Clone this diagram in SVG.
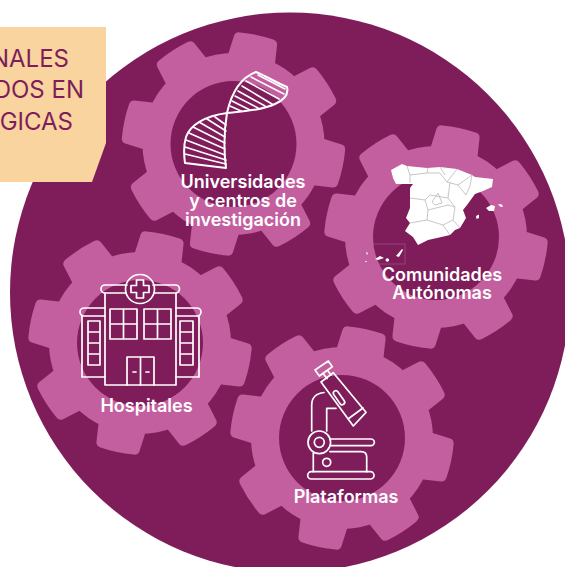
<svg xmlns="http://www.w3.org/2000/svg" xmlns:xlink="http://www.w3.org/1999/xlink" width="565" height="567" viewBox="0 0 565 567">
<style>
.label{font-family:"Inter","Liberation Sans",sans-serif;font-weight:600;font-size:18px;fill:#fff;text-anchor:middle}
.title{font-family:"Inter","Liberation Sans",sans-serif;font-weight:400;font-size:24px;fill:#7f1d5b;text-anchor:end}
.ic{fill:none;stroke:#fff;stroke-width:1.7;stroke-linecap:round;stroke-linejoin:round}
.rung{fill:none;stroke:#fff;stroke-width:1.6;stroke-linecap:round}
.reg{fill:none;stroke:#c4bec2;stroke-width:.9;stroke-linejoin:round}
.hole{fill:#7f1d5b}
.gearfill{fill:#c45f9f}
</style>
<defs>
<path id="tooth" d="M-24,-86 L-22,-106 Q-21.500,-110 -17,-110.500 Q0,-112.500 17,-110.500 Q21.500,-110 22,-106 L24,-86 Z"/>
<g id="gear" class="gearfill">
<circle r="91"/>
<use xlink:href="#tooth" href="#tooth" transform="rotate(12)"/>
<use xlink:href="#tooth" href="#tooth" transform="rotate(57)"/>
<use xlink:href="#tooth" href="#tooth" transform="rotate(102)"/>
<use xlink:href="#tooth" href="#tooth" transform="rotate(147)"/>
<use xlink:href="#tooth" href="#tooth" transform="rotate(192)"/>
<use xlink:href="#tooth" href="#tooth" transform="rotate(237)"/>
<use xlink:href="#tooth" href="#tooth" transform="rotate(282)"/>
<use xlink:href="#tooth" href="#tooth" transform="rotate(327)"/>
<circle class="hole" r="63"/>
</g>
</defs>
<rect width="565" height="567" fill="#fff"/>
<circle cx="290" cy="292.500" r="280" fill="#7f1d5b"/>
<g id="connectors"/>
<g id="box">
<path d="M0,27 H106 V143 L92,182 H0 Z" fill="#f9d49e"/>
<text class="title" x="69" y="67">NALES</text>
<text class="title" x="84" y="98">DOS EN</text>
<text class="title" x="73" y="130">GICAS</text>
</g>
<g id="universidades">
<use xlink:href="#gear" href="#gear" x="233.500" y="144"/>
<g class="ic" style="stroke-width:2">
<path d="M227,113 C231,95 240,78 256,72 C266,76 277,83 287,87 C289,95 284,100 275,104 C262,110 245,111 227,113 C205,116 190,125 186,137 C183,147 184,156 185,163 L226,168 C223,145 225,125 227,113 Z"/>
</g>
<g class="rung">
<path d="M258,75 L285,89 M251,77 L284,94 M246,81 L279,99 M242,86 L272,104 M238,91 L265,106 M235,96 L258,108 M232,101 L250,110 M230,106 L241,111"/>
<path d="M215,117 L226,125 M207,119 L226,131 M199,122 L225,137 M193,127 L225,143 M189,133 L225,149 M186,140 L225,155 M185,147 L226,160 M185,154 L226,164"/>
</g>
<text class="label" x="243" y="188">Universidades</text>
<text class="label" x="243" y="207">y centros de</text>
<text class="label" x="243" y="226">investigación</text>
</g>
<g id="comunidades">
<use xlink:href="#gear" href="#gear" x="436" y="237"/>
<path fill="#fff" d="M391,170 L402,164 L407,166 L427,168 L440,167 L457,169 L472,175 L475,177 L493,179 L492,187 L483,191 L475,194 L467,205 L463,210 L466,218 L460,228 L455,230 L450,235 L437,238 L428,240 L418,245 L413,237 L405,231 L410,223 L406,218 L410,208 L410,188 L413,184 L396,184 L393,178 Z"/>
<path class="reg" d="M407,166 L410,175 L410,183 M410,175 L427,173 L428,168 M427,173 L440,173 L447,182 L457,169 M440,167 L445,175 M447,182 L458,185 L472,175 M458,185 L466,195 L470,186 L472,175 M450,182 L448,198 L455,207 L453,220 L460,228 M448,198 L430,195 L425,200 L410,198 M425,200 L428,210 L427,220 L410,223 M428,210 L448,205 L455,207 M427,220 L443,225 L450,235 M443,225 L453,220 M432,202 L438,193 L442,203 L435,205 Z"/>
<path fill="#fff" d="M486,208 L491,205 L495,206 L494,211 L489,211 Z M498,204 L502,204.500 L503,207 L500,206.500 Z M476,216 L479,214.500 L479,218 L476.500,219 Z"/>
<rect x="364" y="244" width="41" height="20" fill="none" stroke="#a86a95" stroke-width=".5"/>
<path fill="#fff" d="M396,256 L402,249 L403,250 L399,257 Z M384,258 L380,256 L375,259 L378,260 Z M385.500,260 a1.800,1.800 0 1 0 3.600,0 a1.800,1.800 0 1 0 -3.600,0 Z M366,252 L368,253 L367,255 Z M365,261 L367,261 L366,262.500 Z"/>
<text class="label" x="442" y="281">Comunidades</text>
<text class="label" x="442" y="299">Autónomas</text>
</g>
<g id="hospitales">
<use xlink:href="#gear" href="#gear" x="140" y="343"/>
<g class="ic">
<path d="M127,285 H105 a4,4 0 0 0 0,8 H126 M154,293 H175.500 a4,4 0 0 0 0,-8 H153"/>
<path d="M105,293 V385 H176 V293"/>
<circle cx="140" cy="289" r="14.500"/>
<path d="M136.500,280 H143.500 V285.500 H149 V292.500 H143.500 V298 H136.500 V292.500 H131 V285.500 H136.500 Z"/>
<path d="M110,309 H137 V339 H110 Z M123.500,309 V339 M110,324 H137 M144,309 H171 V339 H144 Z M157.500,309 V339 M144,324 H171"/>
<path d="M127,385 V357 H154 V385 M140.500,357 V385 M133,372 H136 M146,372 H149"/>
<path d="M105,308 H84 a4,4 0 0 0 0,8 H105 M82,316 V377 H105 M88,321 H100 V365 H88 Z M88,332 H100 M88,343 H100 M88,354 H100"/>
<path d="M176,308 H197 a4,4 0 0 1 0,8 H176 M199,316 V377 H176 M180,321 H193 V365 H180 Z M180,332 H193 M180,343 H193 M180,354 H193"/>
</g>
<text class="label" x="146.500" y="412">Hospitales</text>
</g>
<g id="plataformas">
<use xlink:href="#gear" href="#gear" x="342" y="438"/>
<g class="ic">
<path d="M321,382 L333.300,372.700 L366,412.300 L353.300,426 Z M348,419 L363,408"/>
<path d="M315,370 L328.300,361 L332.300,366.700 L319.300,376 Z M323.500,374 L327,378.500 M328,371 L331,375"/>
<rect x="331" y="395.200" width="16" height="5" rx="2.500" transform="rotate(55 339 397.700)"/>
<path d="M311.700,431 V405 Q311.700,394 324,392.500 M326.700,431 V408.300 H336"/>
<circle cx="319.300" cy="442.300" r="11.300"/>
<circle cx="319.300" cy="442.300" r="5"/>
<path d="M330,439 H371 a3.300,3.300 0 0 1 0,6.700 H330"/>
<rect x="307.700" y="471.700" width="66.300" height="7.300" rx="3.600"/>
<path d="M313.300,453 V471.700 M366.700,471.700 V457 Q366.700,451.700 361,451.700 H330"/>
<circle cx="326.700" cy="462.300" r="4"/>
</g>
<text class="label" x="346" y="503">Plataformas</text>
</g>
</svg>
